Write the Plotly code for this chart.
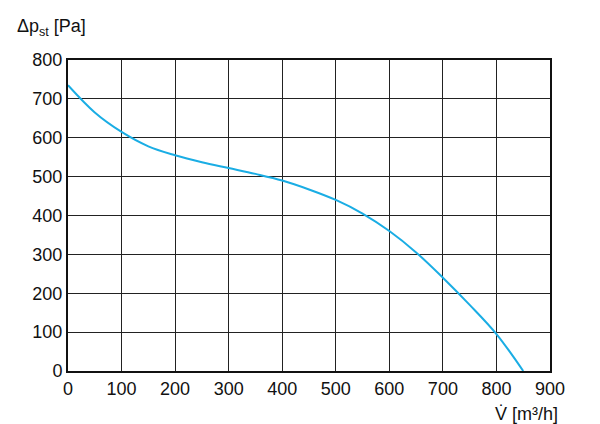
import plotly.graph_objects as go

flow = [0, 50, 100, 150, 200, 250, 300, 350, 400, 450, 500, 550, 600, 650, 700, 750, 800, 850]
pressure = [735, 665, 615, 578, 555, 537, 522, 507, 490, 467, 440, 405, 360, 305, 240, 170, 95, 0]

fig = go.Figure()
fig.add_trace(go.Scatter(x=flow, y=pressure, mode="lines", line=dict(color="#1AADE4", width=2, shape="spline"),
                         showlegend=False))

font = dict(family="Liberation Sans Narrow, Arial Narrow, Arial", size=18, color="#111")
axis = dict(showgrid=True, gridcolor="#222", gridwidth=1, showline=True, linecolor="#111", linewidth=2,
            mirror=True, ticks="", zeroline=False, tickfont=font, automargin=False)
fig.update_xaxes(range=[0, 900], dtick=100, **axis)
fig.update_yaxes(range=[0, 800], dtick=100, **axis)
fig.update_layout(
    width=600, height=424,
    margin=dict(l=60, r=58, t=52, b=61),
    plot_bgcolor="#fff", paper_bgcolor="#fff",
    annotations=[
        dict(text="Δp<sub>st</sub> [Pa]", xref="paper", yref="paper", x=-0.11, y=1.06,
             xanchor="left", yanchor="bottom", showarrow=False, font=font),
        dict(text="V̇ [m³/h]", xref="paper", yref="paper", x=1.02, y=-0.10,
             xanchor="right", yanchor="top", showarrow=False, font=font),
    ],
)
fig.write_html("out.html")
